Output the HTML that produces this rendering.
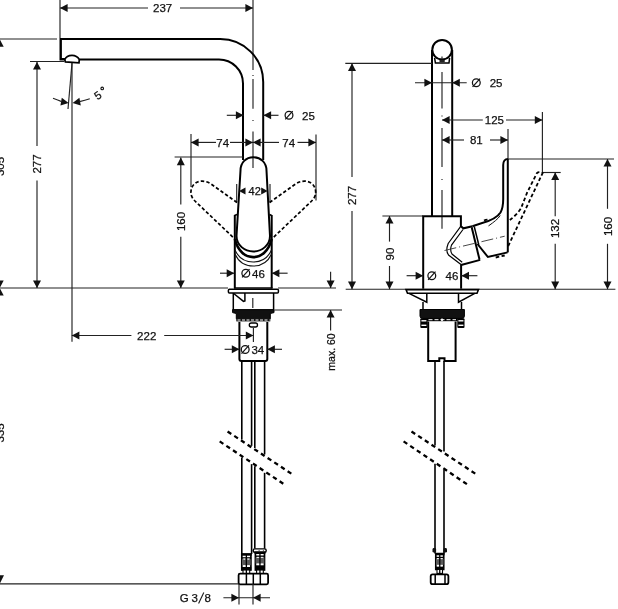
<!DOCTYPE html>
<html><head><meta charset="utf-8"><style>
html,body{margin:0;padding:0;background:#fff;}
svg{display:block;will-change:transform;}
text{font-family:"Liberation Sans",sans-serif;fill:#111;stroke:#111;stroke-width:0.25px;}
</style></head><body>
<svg width="618" height="609" viewBox="0 0 618 609">
<rect width="618" height="609" fill="#fff"/>
<line x1="0" y1="39" x2="57" y2="39" stroke="#222" stroke-width="1.15" fill="none"/>
<polygon points="-0.30,39.20 3.70,46.80 -4.30,46.80" fill="#111"/>
<polygon points="-0.30,288.00 -4.30,280.40 3.70,280.40" fill="#111"/>
<polygon points="-0.30,288.00 3.70,295.60 -4.30,295.60" fill="#111"/>
<polygon points="-0.30,583.80 -4.60,575.30 4.00,575.30" fill="#111"/>
<text x="0" y="166.5" font-size="11.5" text-anchor="middle" dominant-baseline="central" transform="rotate(-90 0 166.5)">305</text>
<text x="0" y="433" font-size="11.5" text-anchor="middle" dominant-baseline="central" transform="rotate(-90 0 433)">335</text>
<line x1="0" y1="288" x2="228" y2="288" stroke="#222" stroke-width="1.15" fill="none"/>
<line x1="278" y1="288" x2="336" y2="288" stroke="#222" stroke-width="1.15" fill="none"/>
<line x1="234" y1="288" x2="272.5" y2="288" stroke="#000" stroke-width="1.6"/>
<line x1="60" y1="0" x2="60" y2="38" stroke="#222" stroke-width="1.15" fill="none"/>
<line x1="60" y1="8" x2="148" y2="8" stroke="#222" stroke-width="1.15" fill="none"/>
<line x1="180" y1="8" x2="253" y2="8" stroke="#222" stroke-width="1.15" fill="none"/>
<polygon points="60.00,8.00 67.60,4.00 67.60,12.00" fill="#111"/>
<polygon points="253.00,8.00 245.40,12.00 245.40,4.00" fill="#111"/>
<text x="162.6" y="8.3" font-size="11.5" text-anchor="middle" dominant-baseline="central">237</text>
<line x1="253" y1="0" x2="253" y2="70" stroke="#222" stroke-width="1.15" fill="none"/>
<line x1="253" y1="75" x2="253" y2="76" stroke="#222" stroke-width="1.15" fill="none"/>
<line x1="253" y1="79" x2="253" y2="108.8" stroke="#222" stroke-width="1.15" fill="none"/>
<line x1="253" y1="120" x2="253" y2="121" stroke="#222" stroke-width="1.15" fill="none"/>
<line x1="253" y1="131.4" x2="253" y2="168" stroke="#222" stroke-width="1.15" fill="none"/>
<path d="M60.5,39 L220.2,39 A43,43 0 0 1 263.2,82 L263.2,160" stroke="#000" stroke-width="2" fill="none"/>
<path d="M79.5,59.5 L219,59.5 A24,24 0 0 1 243,83.5 L243,160" stroke="#000" stroke-width="2" fill="none"/>
<path d="M60.7,38 L60.7,59.3 L65,59.3" stroke="#000" stroke-width="2.4" fill="none"/>
<path d="M64.8,59.6 C66,56.6 69,55.4 72,55.4 C75.5,55.4 78,57.2 79.3,59.5 L79,62.9 L65.4,61.9 Z" stroke="#000" stroke-width="1.7" fill="#fff"/>
<line x1="30" y1="61.5" x2="64.5" y2="61.5" stroke="#222" stroke-width="1.15" fill="none"/>
<line x1="37" y1="62" x2="37" y2="146" stroke="#222" stroke-width="1.15" fill="none"/>
<line x1="37" y1="180.6" x2="37" y2="288" stroke="#222" stroke-width="1.15" fill="none"/>
<polygon points="37.00,62.00 41.00,69.60 33.00,69.60" fill="#111"/>
<polygon points="37.00,288.00 33.00,280.40 41.00,280.40" fill="#111"/>
<text x="37" y="164" font-size="11.5" text-anchor="middle" dominant-baseline="central" transform="rotate(-90 37 164)">277</text>
<line x1="72" y1="63" x2="72" y2="341.7" stroke="#222" stroke-width="1.15" fill="none"/>
<line x1="72" y1="63" x2="68" y2="109" stroke="#222" stroke-width="1.15" fill="none"/>
<polygon points="68.60,102.90 60.42,105.52 61.81,97.64" fill="#111"/>
<polygon points="72.60,102.90 79.39,97.64 80.78,105.52" fill="#111"/>
<path d="M53,98.3 Q58,100 61.7,101.6" stroke="#222" stroke-width="1.15" fill="none"/>
<path d="M79.5,101.6 Q85,100.5 89.8,98.8" stroke="#222" stroke-width="1.15" fill="none"/>
<text x="97.8" y="95.2" font-size="11" text-anchor="middle" dominant-baseline="central" transform="rotate(-35 97.8 95.2)">5</text>
<circle cx="102.2" cy="88.4" r="1.3" stroke="#111" stroke-width="1.1" fill="none"/>
<line x1="191" y1="134" x2="191" y2="187" stroke="#222" stroke-width="1.15" fill="none"/>
<line x1="316" y1="134.6" x2="316" y2="200.4" stroke="#222" stroke-width="1.15" fill="none"/>
<line x1="191" y1="142.4" x2="216" y2="142.4" stroke="#222" stroke-width="1.15" fill="none"/>
<line x1="230" y1="142.4" x2="253" y2="142.4" stroke="#222" stroke-width="1.15" fill="none"/>
<line x1="253" y1="142.4" x2="279" y2="142.4" stroke="#222" stroke-width="1.15" fill="none"/>
<line x1="297.5" y1="142.4" x2="316" y2="142.4" stroke="#222" stroke-width="1.15" fill="none"/>
<polygon points="191.00,142.40 198.60,138.40 198.60,146.40" fill="#111"/>
<polygon points="253.00,142.40 245.40,146.40 245.40,138.40" fill="#111"/>
<polygon points="253.00,142.40 260.60,138.40 260.60,146.40" fill="#111"/>
<polygon points="316.00,142.40 308.40,146.40 308.40,138.40" fill="#111"/>
<text x="222.7" y="142.6" font-size="11.5" text-anchor="middle" dominant-baseline="central">74</text>
<text x="288.7" y="142.6" font-size="11.5" text-anchor="middle" dominant-baseline="central">74</text>
<line x1="226.8" y1="115.3" x2="243.5" y2="115.3" stroke="#222" stroke-width="1.15" fill="none"/>
<line x1="263.5" y1="115.3" x2="278.5" y2="115.3" stroke="#222" stroke-width="1.15" fill="none"/>
<polygon points="243.50,115.30 235.90,119.30 235.90,111.30" fill="#111"/>
<polygon points="263.50,115.30 271.10,111.30 271.10,119.30" fill="#111"/>
<circle cx="289" cy="115.3" r="3.9" stroke="#111" stroke-width="1.25" fill="none"/>
<line x1="285.295" y1="119.395" x2="292.705" y2="111.205" stroke="#111" stroke-width="1.2"/>
<text x="308.5" y="115.5" font-size="11.5" text-anchor="middle" dominant-baseline="central">25</text>
<path d="M240.5,170.5 C240.5,162.5 246,157.2 253.3,157.2 C260.6,157.2 266.5,162.5 266.5,170.5 L270,236 C270,245 262,251.5 253.3,251.5 C244.6,251.5 236.5,245 236.5,236 Z" stroke="#000" stroke-width="2" fill="none"/>
<path d="M234.5,215.5 L237,214.5" stroke="#000" stroke-width="1.5" fill="none"/>
<path d="M271.7,215.5 L269.5,214.5" stroke="#000" stroke-width="1.5" fill="none"/>
<line x1="234.8" y1="215" x2="234.8" y2="288.3" stroke="#000" stroke-width="2" fill="none"/>
<line x1="271.7" y1="215" x2="271.7" y2="288.3" stroke="#000" stroke-width="2" fill="none"/>
<path d="M234.8,239 C238,252 246,257.1 253.2,257.1 C260.5,257.1 268.5,252 271.7,239" stroke="#000" stroke-width="2.6" fill="none"/>
<path d="M235,250 C239,259 246,262 253.2,262 C260.5,262 267.5,259 271.5,250" stroke="#111" stroke-width="1.1" fill="none"/>
<path d="M235,254 C239,263 246,266 253.2,266 C260.5,266 267.5,263 271.5,254" stroke="#111" stroke-width="1.1" fill="none"/>
<line x1="174.6" y1="157" x2="243" y2="157" stroke="#222" stroke-width="1.15" fill="none"/>
<line x1="180.8" y1="157.6" x2="180.8" y2="204.5" stroke="#222" stroke-width="1.15" fill="none"/>
<line x1="180.8" y1="236.7" x2="180.8" y2="288" stroke="#222" stroke-width="1.15" fill="none"/>
<polygon points="180.80,157.60 184.80,165.20 176.80,165.20" fill="#111"/>
<polygon points="180.80,288.00 176.80,280.40 184.80,280.40" fill="#111"/>
<text x="180.8" y="221.5" font-size="11.5" text-anchor="middle" dominant-baseline="central" transform="rotate(-90 180.8 221.5)">160</text>
<line x1="236.7" y1="184" x2="236.7" y2="202.5" stroke="#222" stroke-width="1.15" fill="none"/>
<line x1="270" y1="184" x2="270" y2="202.5" stroke="#222" stroke-width="1.15" fill="none"/>
<polygon points="239.00,191.00 245.50,187.50 245.50,194.50" fill="#111"/>
<polygon points="267.70,191.00 261.20,194.50 261.20,187.50" fill="#111"/>
<text x="254.7" y="191.3" font-size="11" text-anchor="middle" dominant-baseline="central">42</text>
<path d="M237,202.5 L211,184 C203,178.5 192,181 191,191 C190.5,196 193,199 195,201 L234.5,238.7" stroke="#000" stroke-width="1.7" fill="none" stroke-dasharray="3.4,2.2"/>
<path d="M269.6,202.5 L295.6,184 C303.6,178.5 314.6,181 315.6,191 C316.1,196 313.6,199 311.6,201 L272.1,238.7" stroke="#000" stroke-width="1.7" fill="none" stroke-dasharray="3.4,2.2"/>
<line x1="220" y1="273.2" x2="234.3" y2="273.2" stroke="#222" stroke-width="1.15" fill="none"/>
<line x1="271.8" y1="273.2" x2="287.6" y2="273.2" stroke="#222" stroke-width="1.15" fill="none"/>
<polygon points="234.30,273.20 226.70,277.20 226.70,269.20" fill="#111"/>
<polygon points="271.80,273.20 279.40,269.20 279.40,277.20" fill="#111"/>
<circle cx="245.8" cy="273.3" r="3.9" stroke="#111" stroke-width="1.25" fill="none"/>
<line x1="242.095" y1="277.39500000000004" x2="249.50500000000002" y2="269.205" stroke="#111" stroke-width="1.2"/>
<text x="258.4" y="273.6" font-size="11.5" text-anchor="middle" dominant-baseline="central">46</text>
<rect x="228.4" y="289.3" width="50" height="3.8" rx="1" stroke="#000" stroke-width="1.5" fill="#fff"/>
<path d="M233.3,293 L233.3,310.6 M273.6,293 L273.6,310.6" stroke="#000" stroke-width="1.5" fill="none"/>
<path d="M233.7,293.5 L243.5,301.4 L244.9,301 L244.9,293" stroke="#000" stroke-width="1.5" fill="none"/>
<line x1="252.8" y1="298" x2="252.8" y2="308" stroke="#222" stroke-width="1.15" fill="none"/>
<path d="M232.6,309.6 L274,309.6 L274,312.6 L270.3,313.5 L270.3,318.8 L236.3,318.8 L236.3,313.5 L232.6,312.6 Z" stroke="#000" stroke-width="1" fill="#111"/>
<rect x="236.3" y="318.6" width="34" height="2.8" fill="#111"/>
<line x1="237.5" y1="320" x2="269.5" y2="320" stroke="#fff" stroke-width="1" stroke-dasharray="3,1.5"/>
<rect x="249.3" y="323" width="8.2" height="4" rx="2" stroke="#000" stroke-width="1.3" fill="#fff"/>
<line x1="274.5" y1="310" x2="342" y2="310" stroke="#222" stroke-width="1.15" fill="none"/>
<line x1="330.6" y1="271.8" x2="330.6" y2="288" stroke="#222" stroke-width="1.15" fill="none"/>
<polygon points="330.60,288.00 326.60,280.40 334.60,280.40" fill="#111"/>
<line x1="330.6" y1="310" x2="330.6" y2="330.5" stroke="#222" stroke-width="1.15" fill="none"/>
<polygon points="330.60,310.00 334.60,317.60 326.60,317.60" fill="#111"/>
<text x="330.6" y="352" font-size="10.5" text-anchor="middle" dominant-baseline="central" transform="rotate(-90 330.6 352)">max. 60</text>
<path d="M239.4,322 L239.4,359 Q239.4,361 241.4,361 L265.3,361 Q267.3,361 267.3,359 L267.3,322" stroke="#000" stroke-width="2" fill="none"/>
<line x1="71.8" y1="335.5" x2="131.4" y2="335.5" stroke="#222" stroke-width="1.15" fill="none"/>
<line x1="164.2" y1="335.5" x2="253.4" y2="335.5" stroke="#222" stroke-width="1.15" fill="none"/>
<polygon points="71.80,335.50 79.40,331.50 79.40,339.50" fill="#111"/>
<polygon points="253.40,335.50 245.80,339.50 245.80,331.50" fill="#111"/>
<text x="146.7" y="335.8" font-size="11.5" text-anchor="middle" dominant-baseline="central">222</text>
<line x1="253.4" y1="328" x2="253.4" y2="342" stroke="#222" stroke-width="1.15" fill="none"/>
<line x1="224.6" y1="349.3" x2="239.4" y2="349.3" stroke="#222" stroke-width="1.15" fill="none"/>
<line x1="267.3" y1="349.3" x2="282" y2="349.3" stroke="#222" stroke-width="1.15" fill="none"/>
<polygon points="239.40,349.30 231.80,353.30 231.80,345.30" fill="#111"/>
<polygon points="267.30,349.30 274.90,345.30 274.90,353.30" fill="#111"/>
<circle cx="245.2" cy="349.5" r="3.9" stroke="#111" stroke-width="1.25" fill="none"/>
<line x1="241.49499999999998" y1="353.595" x2="248.905" y2="345.405" stroke="#111" stroke-width="1.2"/>
<text x="257.8" y="349.6" font-size="11.5" text-anchor="middle" dominant-baseline="central">34</text>
<line x1="241.8" y1="361" x2="241.8" y2="439.3933" stroke="#000" stroke-width="1.6" fill="none"/>
<line x1="241.8" y1="457.6186" x2="241.8" y2="554" stroke="#000" stroke-width="1.6" fill="none"/>
<line x1="251.6" y1="361" x2="251.6" y2="445.876" stroke="#000" stroke-width="1.6" fill="none"/>
<line x1="251.6" y1="464.1454" x2="251.6" y2="554" stroke="#000" stroke-width="1.6" fill="none"/>
<line x1="254.8" y1="361" x2="254.8" y2="447.9928" stroke="#000" stroke-width="1.6" fill="none"/>
<line x1="254.8" y1="466.2766" x2="254.8" y2="548.6" stroke="#000" stroke-width="1.6" fill="none"/>
<line x1="264.6" y1="361" x2="264.6" y2="454.4755" stroke="#000" stroke-width="1.6" fill="none"/>
<line x1="264.6" y1="472.8034" x2="264.6" y2="548.6" stroke="#000" stroke-width="1.6" fill="none"/>
<line x1="227.6" y1="431.5" x2="292.6" y2="474.5" stroke="#000" stroke-width="2.3" fill="none" stroke-dasharray="4.4,3.6"/>
<line x1="219.7" y1="441.4" x2="284.7" y2="484.7" stroke="#000" stroke-width="2.3" fill="none" stroke-dasharray="4.4,3.6"/>
<rect x="241.8" y="554" width="9.099999999999989" height="16" stroke="#000" stroke-width="1.7" fill="#fff"/>
<rect x="241" y="553.7" width="10.699999999999989" height="2" fill="#000"/>
<rect x="241.5" y="557.2" width="9.699999999999989" height="1.4" fill="#000"/>
<rect x="242" y="559.2" width="8.699999999999989" height="6" fill="#5a5a5a"/>
<rect x="241.5" y="567" width="9.699999999999989" height="2.6999999999999993" fill="#000"/>
<rect x="243.54999999999998" y="558.6" width="1.6" height="1" fill="#fff"/>
<rect x="243.54999999999998" y="565.4" width="1.6" height="1.2" fill="#fff"/>
<rect x="247.54999999999998" y="558.6" width="1.6" height="1" fill="#fff"/>
<rect x="247.54999999999998" y="565.4" width="1.6" height="1.2" fill="#fff"/>
<line x1="246.35" y1="554" x2="246.35" y2="574" stroke="#000" stroke-width="1.3"/>
<rect x="243" y="570" width="6.699999999999989" height="4" stroke="#000" stroke-width="1.1" fill="#fff"/>
<line x1="246.35" y1="570" x2="246.35" y2="574" stroke="#000" stroke-width="1.3"/>
<rect x="253.2" y="548.9" width="13" height="3.4" rx="1.5" stroke="#000" stroke-width="1.4" fill="#fff"/>
<line x1="255.5" y1="550.6" x2="264" y2="550.6" stroke="#000" stroke-width="0.9" stroke-dasharray="0.8,3.4" stroke-dashoffset="-3.2"/>
<rect x="255.4" y="552.3" width="9.100000000000017" height="17.700000000000045" stroke="#000" stroke-width="1.7" fill="#fff"/>
<rect x="254.6" y="552.0" width="10.700000000000017" height="2" fill="#000"/>
<rect x="255.1" y="555.5" width="9.700000000000017" height="1.4" fill="#000"/>
<rect x="255.6" y="557.5" width="8.700000000000017" height="6" fill="#5a5a5a"/>
<rect x="255.1" y="565.3" width="9.700000000000017" height="4.400000000000045" fill="#000"/>
<rect x="257.15" y="556.9" width="1.6" height="1" fill="#fff"/>
<rect x="257.15" y="563.6999999999999" width="1.6" height="1.2" fill="#fff"/>
<rect x="261.15" y="556.9" width="1.6" height="1" fill="#fff"/>
<rect x="261.15" y="563.6999999999999" width="1.6" height="1.2" fill="#fff"/>
<line x1="259.95" y1="552.3" x2="259.95" y2="574" stroke="#000" stroke-width="1.3"/>
<rect x="256.6" y="570" width="6.700000000000017" height="4" stroke="#000" stroke-width="1.1" fill="#fff"/>
<line x1="259.95" y1="570" x2="259.95" y2="574" stroke="#000" stroke-width="1.3"/>
<rect x="238.6" y="573.7" width="29.5" height="10.6" rx="1.5" stroke="#000" stroke-width="1.8" fill="#fff"/>
<line x1="246.4" y1="573.7" x2="246.4" y2="584.3" stroke="#000" stroke-width="1.5" fill="none"/>
<line x1="253.3" y1="573.7" x2="253.3" y2="584.3" stroke="#000" stroke-width="1.5" fill="none"/>
<line x1="260.3" y1="573.7" x2="260.3" y2="584.3" stroke="#000" stroke-width="1.5" fill="none"/>
<line x1="0" y1="583.8" x2="238.6" y2="583.8" stroke="#222" stroke-width="1.15" fill="none"/>
<line x1="239" y1="584" x2="239" y2="604.5" stroke="#222" stroke-width="1.15" fill="none"/>
<line x1="253" y1="584" x2="253" y2="604.5" stroke="#222" stroke-width="1.15" fill="none"/>
<line x1="223.4" y1="597.7" x2="270" y2="597.7" stroke="#222" stroke-width="1.15" fill="none"/>
<polygon points="239.00,597.70 231.40,601.70 231.40,593.70" fill="#111"/>
<polygon points="253.00,597.70 260.60,593.70 260.60,601.70" fill="#111"/>
<text x="184.3" y="598" font-size="11.5" text-anchor="middle" dominant-baseline="central">G</text>
<text x="194.8" y="598" font-size="11.5" text-anchor="middle" dominant-baseline="central">3</text>
<text x="207.8" y="598" font-size="11.5" text-anchor="middle" dominant-baseline="central">8</text>
<line x1="198.6" y1="603.4" x2="203.8" y2="592.6" stroke="#1a1a1a" stroke-width="1.1"/>
<circle cx="442.1" cy="49.7" r="9.8" stroke="#000" stroke-width="2" fill="none"/>
<line x1="432" y1="50" x2="432" y2="216" stroke="#000" stroke-width="2" fill="none"/>
<line x1="452.2" y1="50" x2="452.2" y2="216" stroke="#000" stroke-width="2" fill="none"/>
<path d="M434.6,57.8 L435.4,63 L449,63 L449.6,57.8" stroke="#000" stroke-width="1.5" fill="none"/>
<ellipse cx="442.1" cy="61" rx="3" ry="1.3" fill="#222"/>
<line x1="442" y1="56.6" x2="442" y2="59" stroke="#222" stroke-width="1.15" fill="none"/>
<line x1="442" y1="71.9" x2="442" y2="108.4" stroke="#222" stroke-width="1.15" fill="none"/>
<line x1="442" y1="115.5" x2="442" y2="116.5" stroke="#222" stroke-width="1.15" fill="none"/>
<line x1="442" y1="128" x2="442" y2="167" stroke="#222" stroke-width="1.15" fill="none"/>
<line x1="442" y1="179" x2="442" y2="180" stroke="#222" stroke-width="1.15" fill="none"/>
<line x1="442" y1="190" x2="442" y2="228.7" stroke="#222" stroke-width="1.15" fill="none"/>
<line x1="345.3" y1="63.3" x2="432" y2="63.3" stroke="#222" stroke-width="1.15" fill="none"/>
<line x1="352" y1="63.3" x2="352" y2="177" stroke="#222" stroke-width="1.15" fill="none"/>
<line x1="352" y1="211" x2="352" y2="289.2" stroke="#222" stroke-width="1.15" fill="none"/>
<polygon points="352.00,63.30 356.00,70.90 348.00,70.90" fill="#111"/>
<polygon points="352.00,289.20 348.00,281.60 356.00,281.60" fill="#111"/>
<text x="352" y="195.5" font-size="11.5" text-anchor="middle" dominant-baseline="central" transform="rotate(-90 352 195.5)">277</text>
<line x1="415" y1="82.7" x2="466.7" y2="82.7" stroke="#222" stroke-width="1.15" fill="none"/>
<polygon points="432.00,82.70 424.40,86.70 424.40,78.70" fill="#111"/>
<polygon points="452.20,82.70 459.80,78.70 459.80,86.70" fill="#111"/>
<circle cx="476.3" cy="82.8" r="3.9" stroke="#111" stroke-width="1.25" fill="none"/>
<line x1="472.595" y1="86.895" x2="480.005" y2="78.705" stroke="#111" stroke-width="1.2"/>
<text x="496.1" y="83" font-size="11.5" text-anchor="middle" dominant-baseline="central">25</text>
<line x1="442" y1="120" x2="482.8" y2="120" stroke="#222" stroke-width="1.15" fill="none"/>
<line x1="506" y1="120" x2="542.4" y2="120" stroke="#222" stroke-width="1.15" fill="none"/>
<polygon points="442.00,120.00 449.60,116.00 449.60,124.00" fill="#111"/>
<polygon points="542.40,120.00 534.80,124.00 534.80,116.00" fill="#111"/>
<text x="494.4" y="120.3" font-size="11.5" text-anchor="middle" dominant-baseline="central">125</text>
<line x1="542.4" y1="112" x2="542.4" y2="172.5" stroke="#222" stroke-width="1.15" fill="none"/>
<line x1="442" y1="140" x2="464" y2="140" stroke="#222" stroke-width="1.15" fill="none"/>
<line x1="490" y1="140" x2="508" y2="140" stroke="#222" stroke-width="1.15" fill="none"/>
<polygon points="442.00,140.00 449.60,136.00 449.60,144.00" fill="#111"/>
<polygon points="508.00,140.00 500.40,144.00 500.40,136.00" fill="#111"/>
<text x="476.3" y="140.3" font-size="11.5" text-anchor="middle" dominant-baseline="central">81</text>
<line x1="508" y1="129" x2="508" y2="159" stroke="#222" stroke-width="1.15" fill="none"/>
<line x1="507" y1="159" x2="614" y2="159" stroke="#222" stroke-width="1.15" fill="none"/>
<line x1="607.5" y1="159" x2="607.5" y2="208.8" stroke="#222" stroke-width="1.15" fill="none"/>
<line x1="607.5" y1="243.8" x2="607.5" y2="289.2" stroke="#222" stroke-width="1.15" fill="none"/>
<polygon points="607.50,159.00 611.50,166.60 603.50,166.60" fill="#111"/>
<polygon points="607.50,289.20 603.50,281.60 611.50,281.60" fill="#111"/>
<text x="607.5" y="226.5" font-size="11.5" text-anchor="middle" dominant-baseline="central" transform="rotate(-90 607.5 226.5)">160</text>
<line x1="541.8" y1="172.5" x2="560.7" y2="172.5" stroke="#222" stroke-width="1.15" fill="none"/>
<line x1="555.2" y1="172.5" x2="555.2" y2="216.2" stroke="#222" stroke-width="1.15" fill="none"/>
<line x1="555.2" y1="243.8" x2="555.2" y2="289.2" stroke="#222" stroke-width="1.15" fill="none"/>
<polygon points="555.20,172.50 559.20,180.10 551.20,180.10" fill="#111"/>
<polygon points="555.20,289.20 551.20,281.60 559.20,281.60" fill="#111"/>
<text x="555.2" y="228.5" font-size="11.5" text-anchor="middle" dominant-baseline="central" transform="rotate(-90 555.2 228.5)">132</text>
<line x1="345.7" y1="289.2" x2="615.4" y2="289.2" stroke="#222" stroke-width="1.15" fill="none"/>
<line x1="382.4" y1="216" x2="423" y2="216" stroke="#222" stroke-width="1.15" fill="none"/>
<line x1="389.5" y1="216" x2="389.5" y2="241.6" stroke="#222" stroke-width="1.15" fill="none"/>
<line x1="389.5" y1="266" x2="389.5" y2="289.2" stroke="#222" stroke-width="1.15" fill="none"/>
<polygon points="389.50,216.00 393.50,223.60 385.50,223.60" fill="#111"/>
<polygon points="389.50,289.20 385.50,281.60 393.50,281.60" fill="#111"/>
<text x="389.5" y="254" font-size="11.5" text-anchor="middle" dominant-baseline="central" transform="rotate(-90 389.5 254)">90</text>
<path d="M423.2,288.7 L423.2,216.2 L460.9,216.2 L460.9,226.2 L463.4,228.3 L472.4,226.2" stroke="#000" stroke-width="2" fill="none"/>
<path d="M461.1,264.7 L461.1,288.7" stroke="#000" stroke-width="2" fill="none"/>
<path d="M460.9,226.2 L448.2,243.5 Q445.3,250.8 448.5,255 L461.3,264.8" stroke="#000" stroke-width="1.15" fill="none"/>
<path d="M463,229.5 L451.5,245.1 Q449.6,250 452,254 L462.2,262.3" stroke="#000" stroke-width="1.15" fill="none"/>
<path d="M461.1,265 L480.2,259.9" stroke="#000" stroke-width="2" fill="none"/>
<path d="M471.7,227.2 L479.5,259.5" stroke="#000" stroke-width="2" fill="none"/>
<path d="M474.2,226.5 L478.8,244.7" stroke="#000" stroke-width="1.5" fill="none"/>
<path d="M477.5,244 L487.9,257 L507.6,252.4" stroke="#000" stroke-width="2" fill="none"/>
<path d="M472.4,226.3 L481.4,223.3 C490,221 497,218 500.5,212.5 C502.5,209 503.2,205 503.2,199 L503.2,165 C503.2,161.5 505,159 507.8,159" stroke="#000" stroke-width="2" fill="none"/>
<line x1="507.8" y1="159" x2="507.8" y2="252.4" stroke="#000" stroke-width="2" fill="none"/>
<path d="M488.5,225.9 C494,222 498,219 500.2,215.5" stroke="#111" stroke-width="1" fill="none"/>
<line x1="444.5" y1="250.5" x2="504.7" y2="236.2" stroke="#333" stroke-width="0.9" stroke-dasharray="12,3,1,3"/>
<path d="M509.8,220 C514,217 519,212 521.3,207.6 L527,192.9 L536.9,173.1 C538,172 540,171.8 542.6,173.1 L508.1,246.3" stroke="#000" stroke-width="1.8" fill="none" stroke-dasharray="3.6,2.4"/>
<path d="M484,220.5 C486,219.6 488,219.4 490,219.5" stroke="#000" stroke-width="1.8" fill="none" stroke-dasharray="3.6,2.4"/>
<path d="M495.7,257.5 L504.7,255.5" stroke="#000" stroke-width="1.8" fill="none" stroke-dasharray="3.6,2.4"/>
<line x1="406.6" y1="275.7" x2="423.2" y2="275.7" stroke="#222" stroke-width="1.15" fill="none"/>
<line x1="461.4" y1="275.7" x2="477.4" y2="275.7" stroke="#222" stroke-width="1.15" fill="none"/>
<polygon points="423.20,275.70 415.60,279.70 415.60,271.70" fill="#111"/>
<polygon points="461.40,275.70 469.00,271.70 469.00,279.70" fill="#111"/>
<circle cx="431.8" cy="275.8" r="3.9" stroke="#111" stroke-width="1.25" fill="none"/>
<line x1="428.095" y1="279.89500000000004" x2="435.505" y2="271.705" stroke="#111" stroke-width="1.2"/>
<text x="452" y="276" font-size="11.5" text-anchor="middle" dominant-baseline="central">46</text>
<path d="M406,289.6 L478.5,289.6 L477,293.3 L407.5,293.3 Z" stroke="#000" stroke-width="1.6" fill="#fff"/>
<path d="M409,293.3 L426.8,302.2 L426.8,293.3" stroke="#000" stroke-width="1.5" fill="none"/>
<path d="M474.8,293.3 L458.5,302.2 L458.5,293.3" stroke="#000" stroke-width="1.5" fill="none"/>
<line x1="423" y1="302" x2="423" y2="309.5" stroke="#000" stroke-width="1.5" fill="none"/>
<line x1="461.5" y1="302" x2="461.5" y2="309.5" stroke="#000" stroke-width="1.5" fill="none"/>
<path d="M420,309.5 L464.4,309.5 L464.4,316 Q464.4,318.4 462,318.4 L422.4,318.4 Q420,318.4 420,316 Z" stroke="#000" stroke-width="1" fill="#111"/>
<rect x="420.3" y="318.2" width="7.2" height="9.7" rx="1" fill="#000"/>
<rect x="421.40000000000003" y="320.1" width="5" height="1.4" fill="#fff"/>
<rect x="421.40000000000003" y="324.6" width="5" height="1.4" fill="#fff"/>
<rect x="457.3" y="318.2" width="7.2" height="9.7" rx="1" fill="#000"/>
<rect x="458.40000000000003" y="320.1" width="5" height="1.4" fill="#fff"/>
<rect x="458.40000000000003" y="324.6" width="5" height="1.4" fill="#fff"/>
<rect x="427" y="318.2" width="30.5" height="3" fill="#000"/>
<line x1="428.5" y1="319.7" x2="456" y2="319.7" stroke="#fff" stroke-width="1" stroke-dasharray="4,2"/>
<circle cx="442" cy="319.8" r="1.2" fill="#fff"/>
<path d="M428.2,321.4 L428.2,361 L439.3,361 L439.3,358.3 L444.5,358.3 L444.5,361 L455.6,361 L455.6,321.4" stroke="#000" stroke-width="2" fill="none"/>
<line x1="435" y1="361" x2="435" y2="445.54525" stroke="#000" stroke-width="1.6" fill="none"/>
<line x1="435" y1="463.81239999999997" x2="435" y2="553.6" stroke="#000" stroke-width="1.6" fill="none"/>
<line x1="444" y1="361" x2="444" y2="451.49875" stroke="#000" stroke-width="1.6" fill="none"/>
<line x1="444" y1="469.80639999999994" x2="444" y2="553.6" stroke="#000" stroke-width="1.6" fill="none"/>
<line x1="411.5" y1="431.5" x2="476.6" y2="474.5" stroke="#000" stroke-width="2.3" fill="none" stroke-dasharray="4.4,3.6"/>
<line x1="403.6" y1="441.4" x2="467.7" y2="484.7" stroke="#000" stroke-width="2.3" fill="none" stroke-dasharray="4.4,3.6"/>
<rect x="432.5" y="548" width="3.6" height="4.6" rx="1.4" fill="#111"/>
<rect x="443.4" y="548" width="3.6" height="4.6" rx="1.4" fill="#111"/>
<rect x="435.8" y="553.6" width="7.9" height="15.799999999999955" stroke="#000" stroke-width="1.7" fill="#fff"/>
<rect x="435" y="553.3000000000001" width="9.5" height="2" fill="#000"/>
<rect x="435.5" y="556.8000000000001" width="8.5" height="1.4" fill="#000"/>
<rect x="436" y="558.8000000000001" width="7.5" height="6" fill="#5a5a5a"/>
<rect x="435.5" y="566.6" width="8.5" height="2.499999999999954" fill="#000"/>
<rect x="436.95" y="558.2" width="1.6" height="1" fill="#fff"/>
<rect x="436.95" y="565.0" width="1.6" height="1.2" fill="#fff"/>
<rect x="440.95" y="558.2" width="1.6" height="1" fill="#fff"/>
<rect x="440.95" y="565.0" width="1.6" height="1.2" fill="#fff"/>
<line x1="439.75" y1="553.6" x2="439.75" y2="573.4" stroke="#000" stroke-width="1.3"/>
<rect x="437" y="569.4" width="5.5" height="4" stroke="#000" stroke-width="1.1" fill="#fff"/>
<line x1="439.75" y1="569.4" x2="439.75" y2="573.4" stroke="#000" stroke-width="1.3"/>
<rect x="430.7" y="574.3" width="17.7" height="9.9" rx="2" stroke="#000" stroke-width="1.8" fill="#fff"/>
<line x1="435.2" y1="574.3" x2="435.2" y2="584.2" stroke="#000" stroke-width="1.5" fill="none"/>
<line x1="445" y1="574.3" x2="445" y2="584.2" stroke="#000" stroke-width="1.5" fill="none"/>
</svg>
</body></html>
